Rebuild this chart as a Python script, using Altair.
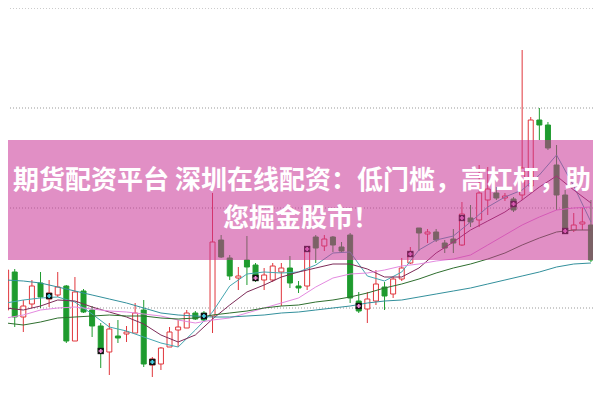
import altair as alt
import pandas as pd

# ---------------- data ----------------
bar_no = list(range(69))
open_ = [9.98, 10.36, 9.91, 10.04, 10.25, 10.09, 10.13, 10.22, 9.67, 10.17,
         9.98, 9.82, 9.56, 9.72, 9.74, 9.75, 9.98, 9.43, 9.44, 9.61,
         9.78, 9.80, 9.95, 9.95, 9.92, 10.68, 10.50, 10.30, 10.48, 10.43,
         10.28, 10.28, 10.36, 10.40, 10.22, 10.22, 10.71, 10.62, 10.71, 10.61,
         10.73, 10.07, 9.99, 10.07, 10.21, 10.14, 10.29, 10.45, 10.80, 10.74,
         10.76, 10.65, 10.69, 10.63, 10.90, 10.88, 11.08, 11.15, 11.10, 11.09,
         11.13, 11.22, 11.88, 11.83, 11.43, 11.13, 10.78, 10.84, 10.83]
high = [10.53, 10.39, 10.08, 10.28, 10.36, 10.28, 10.36, 10.23, 10.31, 10.19,
        10.02, 9.85, 9.85, 9.88, 9.82, 10.05, 10.08, 9.51, 9.61, 9.81,
        9.88, 9.98, 9.97, 9.97, 11.15, 10.73, 10.53, 10.41, 10.72, 10.45,
        10.40, 10.45, 10.45, 10.52, 10.27, 10.62, 10.73, 10.73, 10.72, 10.66,
        10.75, 10.16, 10.16, 10.38, 10.26, 10.31, 10.50, 10.61, 10.80, 10.79,
        10.79, 10.68, 10.79, 11.06, 11.03, 11.43, 11.41, 11.21, 11.15, 11.11,
        12.58, 11.91, 12.00, 11.86, 11.63, 11.18, 10.95, 11.00, 11.08]
low = [9.95, 9.81, 9.76, 10.00, 10.00, 10.01, 10.11, 9.65, 9.67, 9.95,
       9.71, 9.40, 9.33, 9.65, 9.66, 9.75, 9.41, 9.31, 9.38, 9.61,
       9.61, 9.80, 9.88, 9.86, 9.75, 10.50, 10.28, 10.18, 10.23, 10.26,
       10.18, 10.26, 10.02, 10.20, 10.15, 10.18, 10.45, 10.57, 10.56, 10.55,
       10.05, 9.95, 9.85, 10.03, 9.98, 10.10, 10.27, 10.44, 10.57, 10.65,
       10.66, 10.55, 10.55, 10.62, 10.81, 10.81, 10.93, 11.08, 11.07, 10.96,
       11.08, 11.18, 11.68, 11.58, 10.98, 10.75, 10.76, 10.78, 10.46]
close = [10.38, 9.91, 10.02, 10.22, 10.11, 10.15, 10.21, 9.67, 10.16, 9.96,
         9.82, 9.56, 9.79, 9.70, 9.76, 9.95, 9.44, 9.49, 9.60, 9.76,
         9.81, 9.95, 9.89, 9.88, 10.66, 10.51, 10.32, 10.32, 10.41, 10.30,
         10.33, 10.42, 10.40, 10.25, 10.20, 10.58, 10.60, 10.69, 10.63, 10.57,
         10.10, 9.97, 10.09, 10.24, 10.12, 10.29, 10.40, 10.56, 10.75, 10.76,
         10.68, 10.60, 10.65, 10.94, 10.86, 11.15, 11.19, 11.10, 11.12, 10.98,
         11.40, 11.88, 11.83, 11.60, 11.13, 10.76, 10.83, 10.86, 10.48]

ma_bar = list(range(0, 69, 2))
ma5 = [10.05, 10.08, 10.10, 10.11, 10.06, 9.94, 9.81, 9.77, 9.71, 9.65,
       9.61, 9.78, 9.96, 10.22, 10.34, 10.36, 10.35, 10.36, 10.43, 10.55,
       10.56, 10.32, 10.27, 10.36, 10.58, 10.68, 10.72, 10.86, 11.01, 11.11,
       11.18, 11.33, 11.53, 11.22, 10.86]
ma10 = [10.00, 9.98, 10.02, 10.08, 10.07, 10.01, 9.96, 9.91, 9.84, 9.73,
        9.66, 9.73, 9.89, 10.03, 10.16, 10.23, 10.31, 10.36, 10.40, 10.44,
        10.44, 10.39, 10.31, 10.31, 10.40, 10.55, 10.66, 10.78, 10.87, 10.96,
        11.08, 11.21, 11.32, 11.18, 11.05]
ma20 = [9.90, 9.93, 9.98, 10.00, 10.01, 9.99, 9.97, 9.96, 9.94, 9.92,
        9.88, 9.85, 9.88, 9.90, 9.95, 10.00, 10.05, 10.10, 10.21, 10.30,
        10.34, 10.35, 10.38, 10.42, 10.44, 10.47, 10.49, 10.53, 10.63, 10.73,
        10.83, 10.91, 10.98, 11.00, 11.01]
ma30 = [9.85, 9.83, 9.86, 9.90, 9.91, 9.92, 9.93, 9.92, 9.92, 9.90,
        9.89, 9.90, 9.93, 9.95, 9.97, 10.00, 10.02, 10.03, 10.06, 10.08,
        10.11, 10.15, 10.20, 10.24, 10.29, 10.35, 10.40, 10.44, 10.49, 10.55,
        10.63, 10.70, 10.76, 10.78, 10.78]
ma60 = [10.28, 10.27, 10.25, 10.21, 10.17, 10.13, 10.09, 10.05, 10.00, 9.95,
        9.93, 9.92, 9.91, 9.91, 9.92, 9.93, 9.95, 9.96, 9.98, 10.00,
        10.02, 10.05, 10.07, 10.08, 10.11, 10.14, 10.17, 10.20, 10.24, 10.28,
        10.32, 10.36, 10.41, 10.44, 10.45]
ma_names = ["MA5", "MA10", "MA20", "MA30", "MA60"]

signal_bar = [5, 11, 17, 23, 29, 35, 41, 47, 53, 59, 65]
signal_price = [10.12, 9.57, 9.46, 9.92, 10.30, 10.59, 10.02, 10.54, 10.90, 11.04, 10.77]
signal_kind = ["B", "S", "B", "B", "S", "S", "S", "S", "S", "S", "S"]

grid_levels = [10, 11, 12, 13]
title_lines = ["期货配资平台 深圳在线配资：低门槛，高杠杆，助", "您掘金股市！"]

# ---------------- styling ----------------
RED = "#e0363c"
GREEN = "#1e9b2e"
W, H = 585, 384

candles = pd.DataFrame({"bar": bar_no, "open": open_, "high": high,
                        "low": low, "close": close})
candles["dir"] = ["up" if c >= o else "down" for o, c in zip(open_, close)]

ma_rows = []
for name, vals in zip(ma_names, [ma5, ma10, ma20, ma30, ma60]):
    for b, v in zip(ma_bar, vals):
        ma_rows.append({"bar": b, "value": v, "ma": name})
ma_df = pd.DataFrame(ma_rows)

sig_df = pd.DataFrame({"bar": signal_bar, "price": signal_price, "kind": signal_kind})
grid_df = pd.DataFrame({"level": grid_levels})

xs = alt.Scale(domain=[0.8, 67.657], nice=False, zero=False)
ys = alt.Scale(domain=[9.16, 13.0], nice=False, zero=False)
dir_stroke = alt.Scale(domain=["up", "down"], range=[RED, GREEN])

grid = alt.Chart(grid_df).mark_rule(color="#999999", strokeDash=[1, 2], strokeWidth=1).encode(
    y=alt.Y("level:Q", scale=ys, axis=None))

wicks = alt.Chart(candles).mark_rule(strokeWidth=1, clip=True).encode(
    x=alt.X("bar:Q", scale=xs, axis=None),
    y=alt.Y("low:Q", scale=ys, axis=None),
    y2="high:Q",
    stroke=alt.Stroke("dir:N", scale=dir_stroke, legend=None))

bodies = alt.Chart(candles).mark_bar(size=5, strokeWidth=1, clip=True).encode(
    x=alt.X("bar:Q", scale=xs, axis=None),
    y=alt.Y("open:Q", scale=ys, axis=None),
    y2="close:Q",
    fill=alt.Fill("dir:N", scale=alt.Scale(domain=["up", "down"], range=["#ffffff", GREEN]), legend=None),
    stroke=alt.Stroke("dir:N", scale=dir_stroke, legend=None))

lines = alt.Chart(ma_df).mark_line(strokeWidth=1, clip=True).encode(
    x=alt.X("bar:Q", scale=xs, axis=None),
    y=alt.Y("value:Q", scale=ys, axis=None),
    detail="ma:N",
    color=alt.Color("ma:N", scale=alt.Scale(domain=ma_names,
                    range=["#45a6b0", "#7d2b58", "#e48ae0", "#2f6f2f", "#33909c"]), legend=None))

sig_sq = alt.Chart(sig_df).mark_square(size=40, color="#111111", opacity=1, clip=True).encode(
    x=alt.X("bar:Q", scale=xs, axis=None),
    y=alt.Y("price:Q", scale=ys, axis=None))

sig_cross = alt.Chart(sig_df).mark_point(shape="cross", filled=True, size=18, opacity=1, clip=True).encode(
    x=alt.X("bar:Q", scale=xs, axis=None),
    y=alt.Y("price:Q", scale=ys, axis=None),
    fill=alt.Fill("kind:N", scale=alt.Scale(domain=["B", "S"], range=["#49d3e6", "#f08ad6"]), legend=None))

banner = alt.Chart(pd.DataFrame({"k": [0]})).mark_rect(color="#c93396", opacity=0.55).encode(
    x=alt.value(0), x2=alt.value(W), y=alt.value(132), y2=alt.value(252))

txt_style = dict(font="Noto Sans CJK SC", fontWeight="bold", fontSize=26,
                 color="white", align="center", baseline="middle")
text1 = alt.Chart(pd.DataFrame({"t": [title_lines[0]]})).mark_text(**txt_style).encode(
    text="t:N", x=alt.value(294), y=alt.value(173))
text2 = alt.Chart(pd.DataFrame({"t": [title_lines[1]]})).mark_text(**txt_style).encode(
    text="t:N", x=alt.value(293), y=alt.value(211))

chart = alt.layer(grid, wicks, bodies, lines, sig_sq, sig_cross, banner, text1, text2).resolve_scale(
    color="independent", fill="independent", stroke="independent"
).properties(
    width=W, height=H, padding=0, autosize="none", background="white"
).configure_view(stroke=None)

chart.save("out.html", embed_options={"renderer": "svg", "actions": False})
